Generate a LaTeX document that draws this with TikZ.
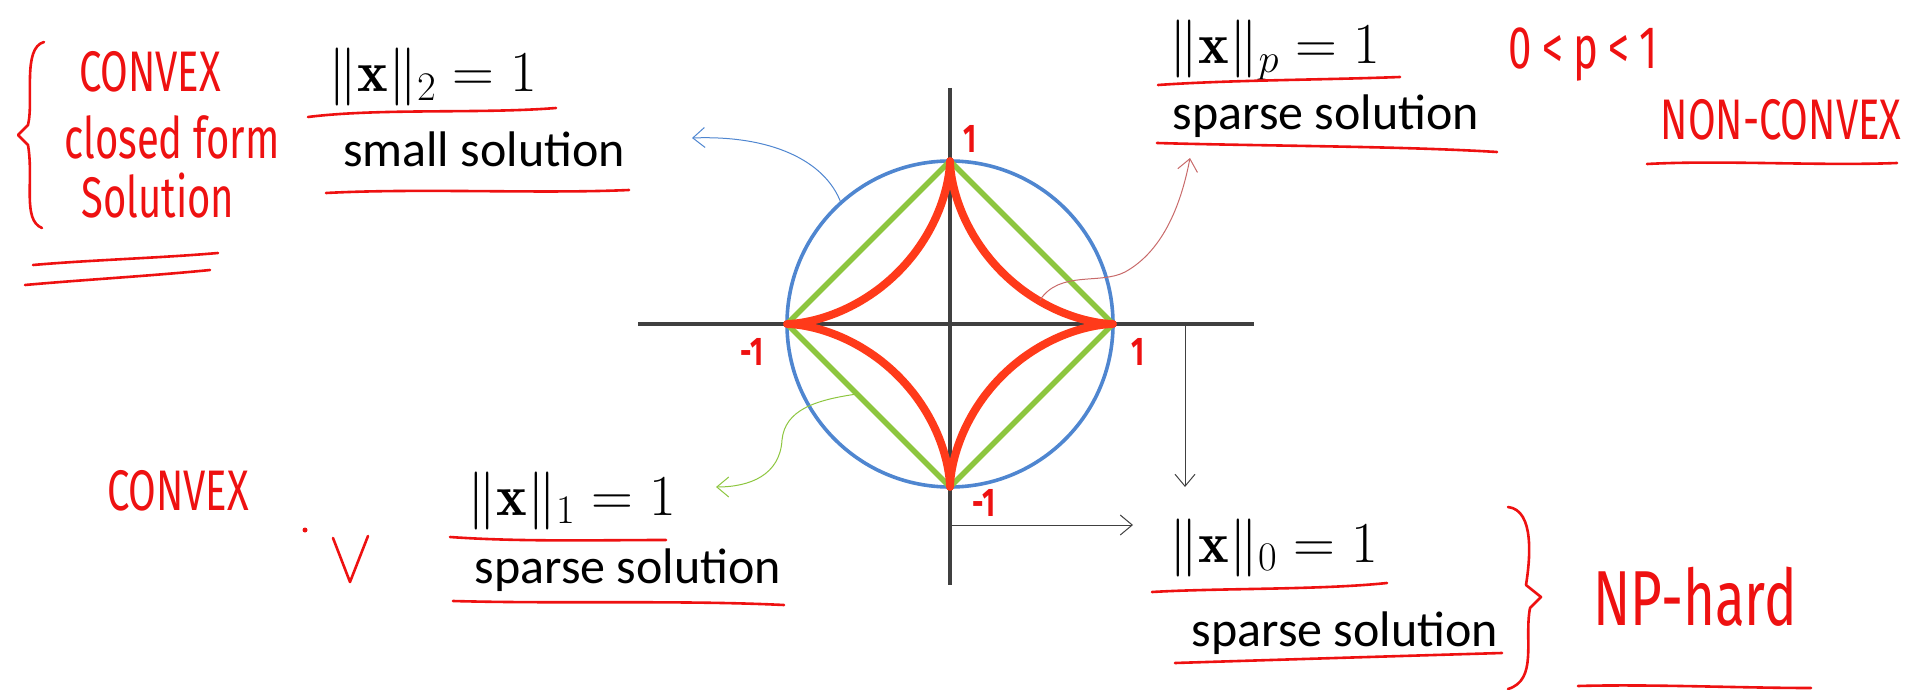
\RequirePackage{fix-cm}
\documentclass[tikz,border=0pt]{standalone}
\usepackage{fontspec}
\usepackage{amsmath}
\setsansfont{Carlito}
\newfontfamily\handfont[FakeStretch=0.7]{Fira Sans}
\usetikzlibrary{arrows.meta}

\definecolor{ink}{HTML}{EE1111}
\definecolor{axisgray}{HTML}{404040}
\definecolor{normblue}{HTML}{4F86D0}
\definecolor{normgreen}{HTML}{8DC63F}
\definecolor{normred}{HTML}{FF3A1A}
\definecolor{thinred}{HTML}{C86A6A}

\begin{document}
\begin{tikzpicture}[x=0.5pt, y=-0.5pt, >={Straight Barb[length=6pt,width=10pt]},
eq/.style={font=\fontsize{29}{32}\selectfont, inner sep=0pt, anchor=base},
txt/.style={font=\sffamily\fontsize{25}{28}\selectfont, inner sep=0pt, anchor=base},
hand/.style={text=ink, font=\handfont\fontsize{28.6}{31}\selectfont, inner sep=0pt},
tick/.style={text=ink, font=\handfont\bfseries\fontsize{20}{22}\selectfont, inner sep=0pt},
uline/.style={draw=ink, line width=1.3pt, line cap=round, line join=round},
pointer/.style={->, line width=0.5pt}]
\useasboundingbox (0,0) rectangle (1923,690);

% axes and unit balls
\coordinate (O) at (950,324);
\draw[axisgray, line width=2.4pt] (638,324) -- (1254,324);
\draw[axisgray, line width=2.4pt] (950,88) -- (950,585);
\draw[normblue, line width=1.8pt] (O) circle[radius=163];
\draw[normgreen, line width=2.8pt, line join=round] (787,324) -- (950,161) -- (1113,324) -- (950,487) -- cycle;
\draw[normred, line width=4pt, line join=round] plot[domain=0.5:359.5, samples=360, variable=\t]
  ({950+163*sign(cos(\t))*pow(abs(cos(\t)),3.3)}, {324+163*sign(sin(\t))*pow(abs(sin(\t)),3.3)}) -- cycle;

\node[tick] (ytop) at (970,139) {1};
\node[tick] (xleft) at (752,352) {-1};
\node[tick] (xright) at (1138,352) {1};
\node[tick] (ybot) at (984,503) {-1};

% labels
\node[eq] (l2) at (433,92) {$\|\mathbf{x}\|_2 = 1$};
\node[txt] (s2) at (484,167) {small solution};
\node[eq] (lp) at (1275,64) {$\|\mathbf{x}\|_p = 1$};
\node[txt] (sp) at (1326,130) {sparse solution};
\node[eq] (l1) at (572,515) {$\|\mathbf{x}\|_1 = 1$};
\node[txt] (s1) at (628,583) {sparse solution};
\node[eq] (l0) at (1274,562) {$\|\mathbf{x}\|_0 = 1$};
\node[txt] (s0) at (1345,646) {sparse solution};

% handwritten notes
\node[hand] (cvxa) at (150,72) {CONVEX};
\node[hand] (closed) at (172,137) {closed form};
\node[hand] (sol) at (158,196) {Solution};
\node[hand] (cvxb) at (178,491) {CONVEX};
\node[hand, font=\handfont\fontsize{30}{32}\selectfont] (prange) at (1583,55)
  {0\hspace{5pt}<\hspace{5pt}p\hspace{5pt}<\hspace{5pt}1};
\node[hand] (ncvx) at (1781,120) {NON-CONVEX};
\node[hand, font=\handfont\fontsize{39}{42}\selectfont] (nph) at (1695,597) {NP-hard};

% pointers
\coordinate (bs) at (841,203);
\coordinate (be) at (692,138);
\coordinate (rs) at (1040,300);
\coordinate (re) at (1190,158);
\coordinate (gs) at (857,394);
\coordinate (ge) at (716,487);
\coordinate (ks) at (1185,324);
\coordinate (ke) at (1185,487);
\coordinate (hs) at (950,525);
\coordinate (he) at (1133,525);
\draw[pointer, normblue] (bs) .. controls (825,160) and (770,135) .. (be);
\draw[pointer, thinred] (rs) .. controls (1060,270) and (1100,285) .. (1125,272) .. controls (1165,250) and (1182,200) .. (re);
\draw[pointer, normgreen] (gs) .. controls (815,400) and (785,410) .. (782,440) .. controls (780,475) and (750,487) .. (ge);
\draw[pointer, axisgray] (ks) -- (ke);
\draw[pointer, axisgray] (hs) -- (he);

% underlines, braces, tick
\draw[uline] (308,117) .. controls (380,108) and (480,114) .. (556,108);
\draw[uline] (326,193) .. controls (420,188) and (540,194) .. (629,190);
\draw[uline] (33,265) .. controls (90,260) and (160,258) .. (218,253);
\draw[uline] (25,285) .. controls (80,280) and (150,276) .. (210,270);
\draw[uline] (1158,85) .. controls (1230,80) and (1320,80) .. (1400,77);
\draw[uline] (1157,143) .. controls (1260,146) and (1400,146) .. (1497,152);
\draw[uline] (1647,164) .. controls (1720,160) and (1820,166) .. (1897,163);
\draw[uline] (450,537) .. controls (520,542) and (600,540) .. (666,540);
\draw[uline] (453,601) .. controls (560,604) and (680,600) .. (784,605);
\draw[uline] (1152,592) .. controls (1220,588) and (1320,590) .. (1387,583);
\draw[uline] (1175,663) .. controls (1270,660) and (1400,656) .. (1502,653);
\draw[uline] (1578,686) .. controls (1650,684) and (1740,688) .. (1811,688);
\draw[uline] (44,42) .. controls (22,48) and (34,100) .. (28,125) -- (18,135) -- (28,145) .. controls (34,180) and (22,220) .. (42,228);
\draw[uline] (1508,507) .. controls (1535,510) and (1530,560) .. (1526,585) -- (1541,597) -- (1530,608) .. controls (1524,640) and (1538,680) .. (1508,689);
\fill[ink] (305,530) circle[radius=2.5];
\draw[uline] (333,538) -- (350,582) -- (368,536);
\end{tikzpicture}
\end{document}
